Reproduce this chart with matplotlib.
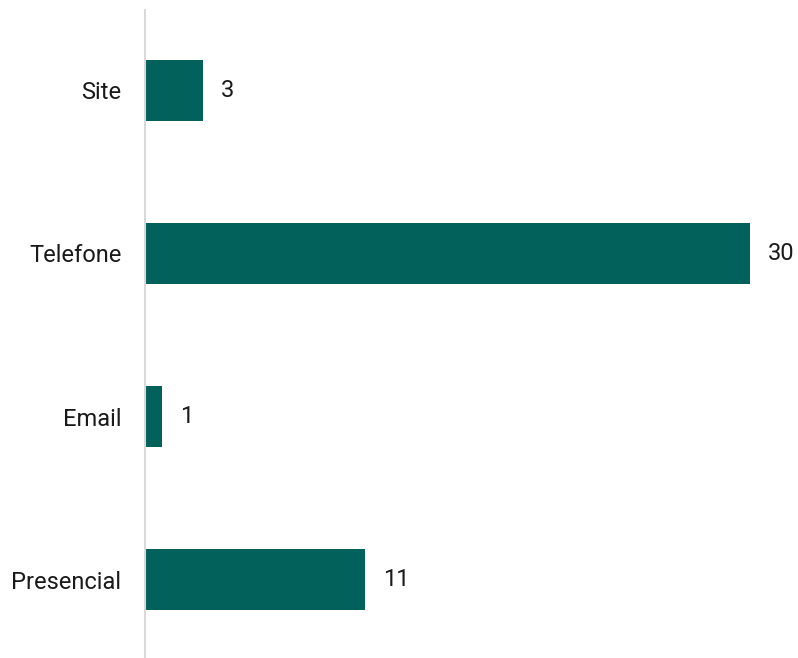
import matplotlib.pyplot as plt

plt.rcParams['font.family'] = ['Roboto', 'DejaVu Sans']

categorias = ["Site", "Telefone", "Email", "Presencial"]
valores = [3, 30, 1, 11]

cor_barra = "#02615b"

fig = plt.figure(figsize=(7.98, 6.58), dpi=100)
ax = fig.add_axes([145 / 798, 1 / 658, 653 / 798, 647 / 658])

pos = range(len(categorias))
ax.barh(pos, valores, height=0.375, color=cor_barra, zorder=2)

for i, v in enumerate(valores):
    ax.text(v + 0.9, i, str(v), va="center", ha="left", fontsize=17, color="#1a1a1a")

ax.set_yticks(list(pos))
ax.set_yticklabels(categorias, fontsize=17, color="#1a1a1a")
ax.set_xticks([])
ax.tick_params(axis="y", length=0, pad=17)
# escala: ~20.26 px por unidade, zero um pouco a esquerda do eixo
ax.set_xlim(0.15, 0.15 + 653 / 20.26)
ax.set_ylim(3 + 77 / 163, -80 / 163)

for s in ["top", "right", "bottom"]:
    ax.spines[s].set_visible(False)
ax.spines["left"].set_color("#d9d9d9")
ax.spines["left"].set_linewidth(1.5)

fig.savefig("out.png", dpi=100)
